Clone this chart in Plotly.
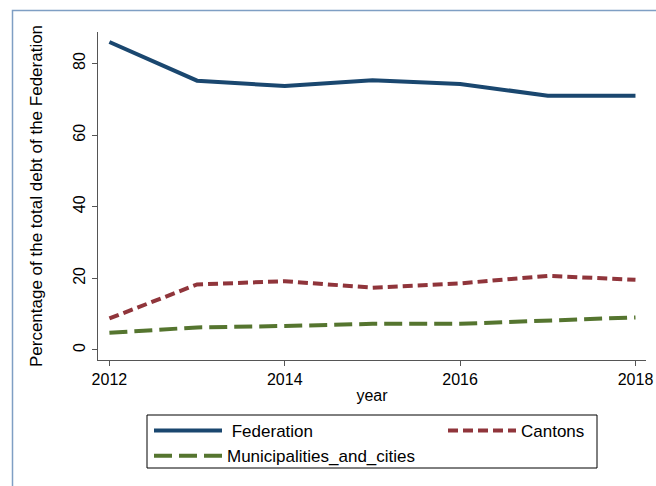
import plotly.graph_objects as go

years = [2012, 2013, 2014, 2015, 2016, 2017, 2018]
federation = [86.0, 75.2, 73.7, 75.3, 74.3, 71.0, 71.0]
cantons = [8.8, 18.3, 19.2, 17.4, 18.6, 20.7, 19.6]
municipalities = [4.8, 6.3, 6.7, 7.3, 7.3, 8.2, 9.1]

x_ticks = [2012, 2014, 2016, 2018]
y_ticks = [0, 20, 40, 60, 80]

FONT = "Liberation Sans, Arial, sans-serif"

fig = go.Figure()
fig.add_trace(go.Scatter(x=years, y=federation, mode="lines", name=" Federation",
                         line=dict(color="#1a476f", width=4), legend="legend"))
fig.add_trace(go.Scatter(x=years, y=municipalities, mode="lines", name="Municipalities_and_cities",
                         line=dict(color="#55752f", width=4, dash="18px,7px"), legend="legend"))
fig.add_trace(go.Scatter(x=years, y=cantons, mode="lines", name="Cantons",
                         line=dict(color="#90353b", width=4, dash="10px,5px"), legend="legend2"))

L, R, T, B = 98, 10, 32, 126
W, H = 656, 486
pw, ph = W - L - R, H - T - B

def px(xp):
    return (xp - L) / pw

def py(yp):
    return (H - B - yp) / ph

fig.update_layout(
    width=W, height=H,
    margin=dict(l=L, r=R, t=T, b=B, autoexpand=False),
    paper_bgcolor="white", plot_bgcolor="white",
    font=dict(family=FONT, size=16, color="black"),
    legend=dict(x=px(149), y=py(413), xanchor="left", yanchor="top",
                bgcolor="rgba(0,0,0,0)", borderwidth=0, itemwidth=68,
                font=dict(size=17), tracegroupgap=0),
    legend2=dict(x=px(443), y=py(413), xanchor="left", yanchor="top",
                 bgcolor="rgba(0,0,0,0)", borderwidth=0, itemwidth=68,
                 font=dict(size=17)),
    shapes=[
        dict(type="rect", xref="paper", yref="paper",
             x0=px(147), x1=px(597), y0=py(468), y1=py(415),
             line=dict(color="black", width=1), layer="below"),
        dict(type="rect", xref="paper", yref="paper",
             x0=px(12.5), x1=px(700), y0=py(600), y1=py(10.5),
             line=dict(color="#7f9fc4", width=1.5), layer="below"),
    ],
)

fig.update_xaxes(range=[2011.87, 2018.12], tickvals=x_ticks, ticks="outside", ticklen=5,
                 tickcolor="#555", showline=True, linecolor="#555", linewidth=1,
                 showgrid=False, zeroline=False, tickfont=dict(size=16), automargin=False,
                 title=dict(text="year", font=dict(size=16), standoff=2))
fig.update_yaxes(range=[-2.8, 88.8], tickvals=y_ticks, ticks="outside", ticklen=5,
                 tickcolor="#555", showline=True, linecolor="#555", linewidth=1,
                 showgrid=False, zeroline=False, tickangle=-90, tickfont=dict(size=16),
                 automargin=False, ticklabelstandoff=1,
                 title=dict(text="Percentage of the total debt of the Federation",
                            font=dict(size=17), standoff=23))

fig.write_html("out.html", config={"displayModeBar": False},
               post_script="document.body.style.margin='0';")
